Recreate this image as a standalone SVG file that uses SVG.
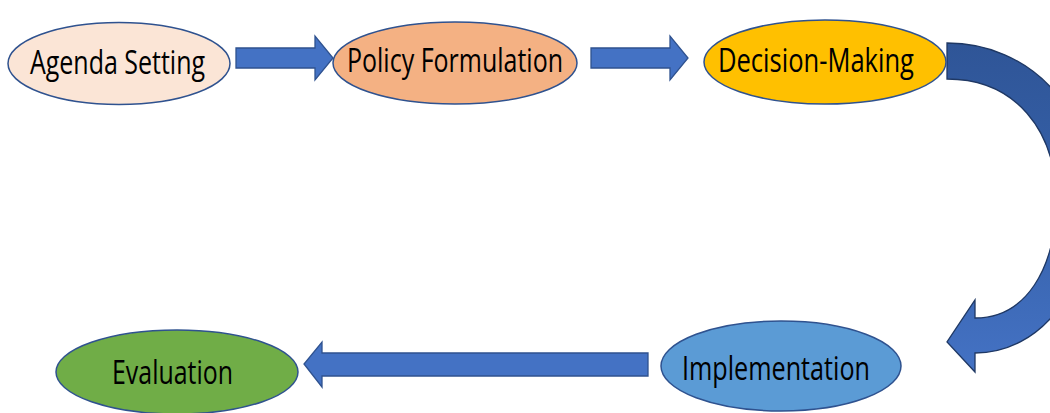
<svg xmlns="http://www.w3.org/2000/svg" width="1050" height="413" viewBox="0 0 1050 413">
<style>
.node ellipse{stroke:#2F528F;stroke-width:1.5}
.lbl{font-family:"Open Sans","Liberation Sans",sans-serif;font-size:33px;fill:#000;text-anchor:start}
.arr{fill:#4472C4;stroke:#2F528F;stroke-width:1.3}
</style>
<defs>
<linearGradient id="cg" x1="0" y1="0" x2="0" y2="1">
<stop offset="0" stop-color="#2F5597"/>
<stop offset="0.45" stop-color="#3560A8"/>
<stop offset="1" stop-color="#4472C4"/>
</linearGradient>
</defs>
<rect width="1050" height="413" fill="#fff"/>
<g id="connectors">
<path class="arr" d="M236,48 H315 V36 L333,58 L315,80 V68 H236 Z"/>
<path class="arr" d="M591,48 H670 V36 L688,58 L670,80 V68 H591 Z"/>
<path class="arr" d="M648,353 H322 V342 L304,364 L322,387 V376 H648 Z"/>
<path fill="url(#cg)" stroke="#1F3864" stroke-width="1.3" d="M947,43 C1030,43 1092,110 1092,195 C1092,290 1040,353 975,353 V372 L947,342 L975,300 V318 C1025,318 1056,270 1056,200 C1056,130 1015,79 947,79 Z"/>
</g>
<g id="agenda" class="node">
<ellipse cx="119" cy="63.5" rx="111" ry="41" fill="#FBE5D6"/>
<text class="lbl" x="30" y="74" textLength="175" lengthAdjust="spacingAndGlyphs">Agenda Setting</text>
</g>
<g id="formulation" class="node">
<ellipse cx="455" cy="63" rx="122" ry="41" fill="#F4B183"/>
<text class="lbl" x="347" y="72" textLength="216" lengthAdjust="spacingAndGlyphs">Policy Formulation</text>
</g>
<g id="decision" class="node">
<ellipse cx="825" cy="62" rx="121" ry="42" fill="#FFC000"/>
<text class="lbl" x="718" y="72" textLength="196" lengthAdjust="spacingAndGlyphs">Decision-Making</text>
</g>
<g id="implementation" class="node">
<ellipse cx="781" cy="366" rx="120" ry="45" fill="#5B9BD5"/>
<text class="lbl" x="682" y="380" textLength="188" lengthAdjust="spacingAndGlyphs">Implementation</text>
</g>
<g id="evaluation" class="node">
<ellipse cx="177" cy="372" rx="121" ry="42" fill="#70AD47"/>
<text class="lbl" x="112" y="384" textLength="121" lengthAdjust="spacingAndGlyphs">Evaluation</text>
</g>
</svg>
